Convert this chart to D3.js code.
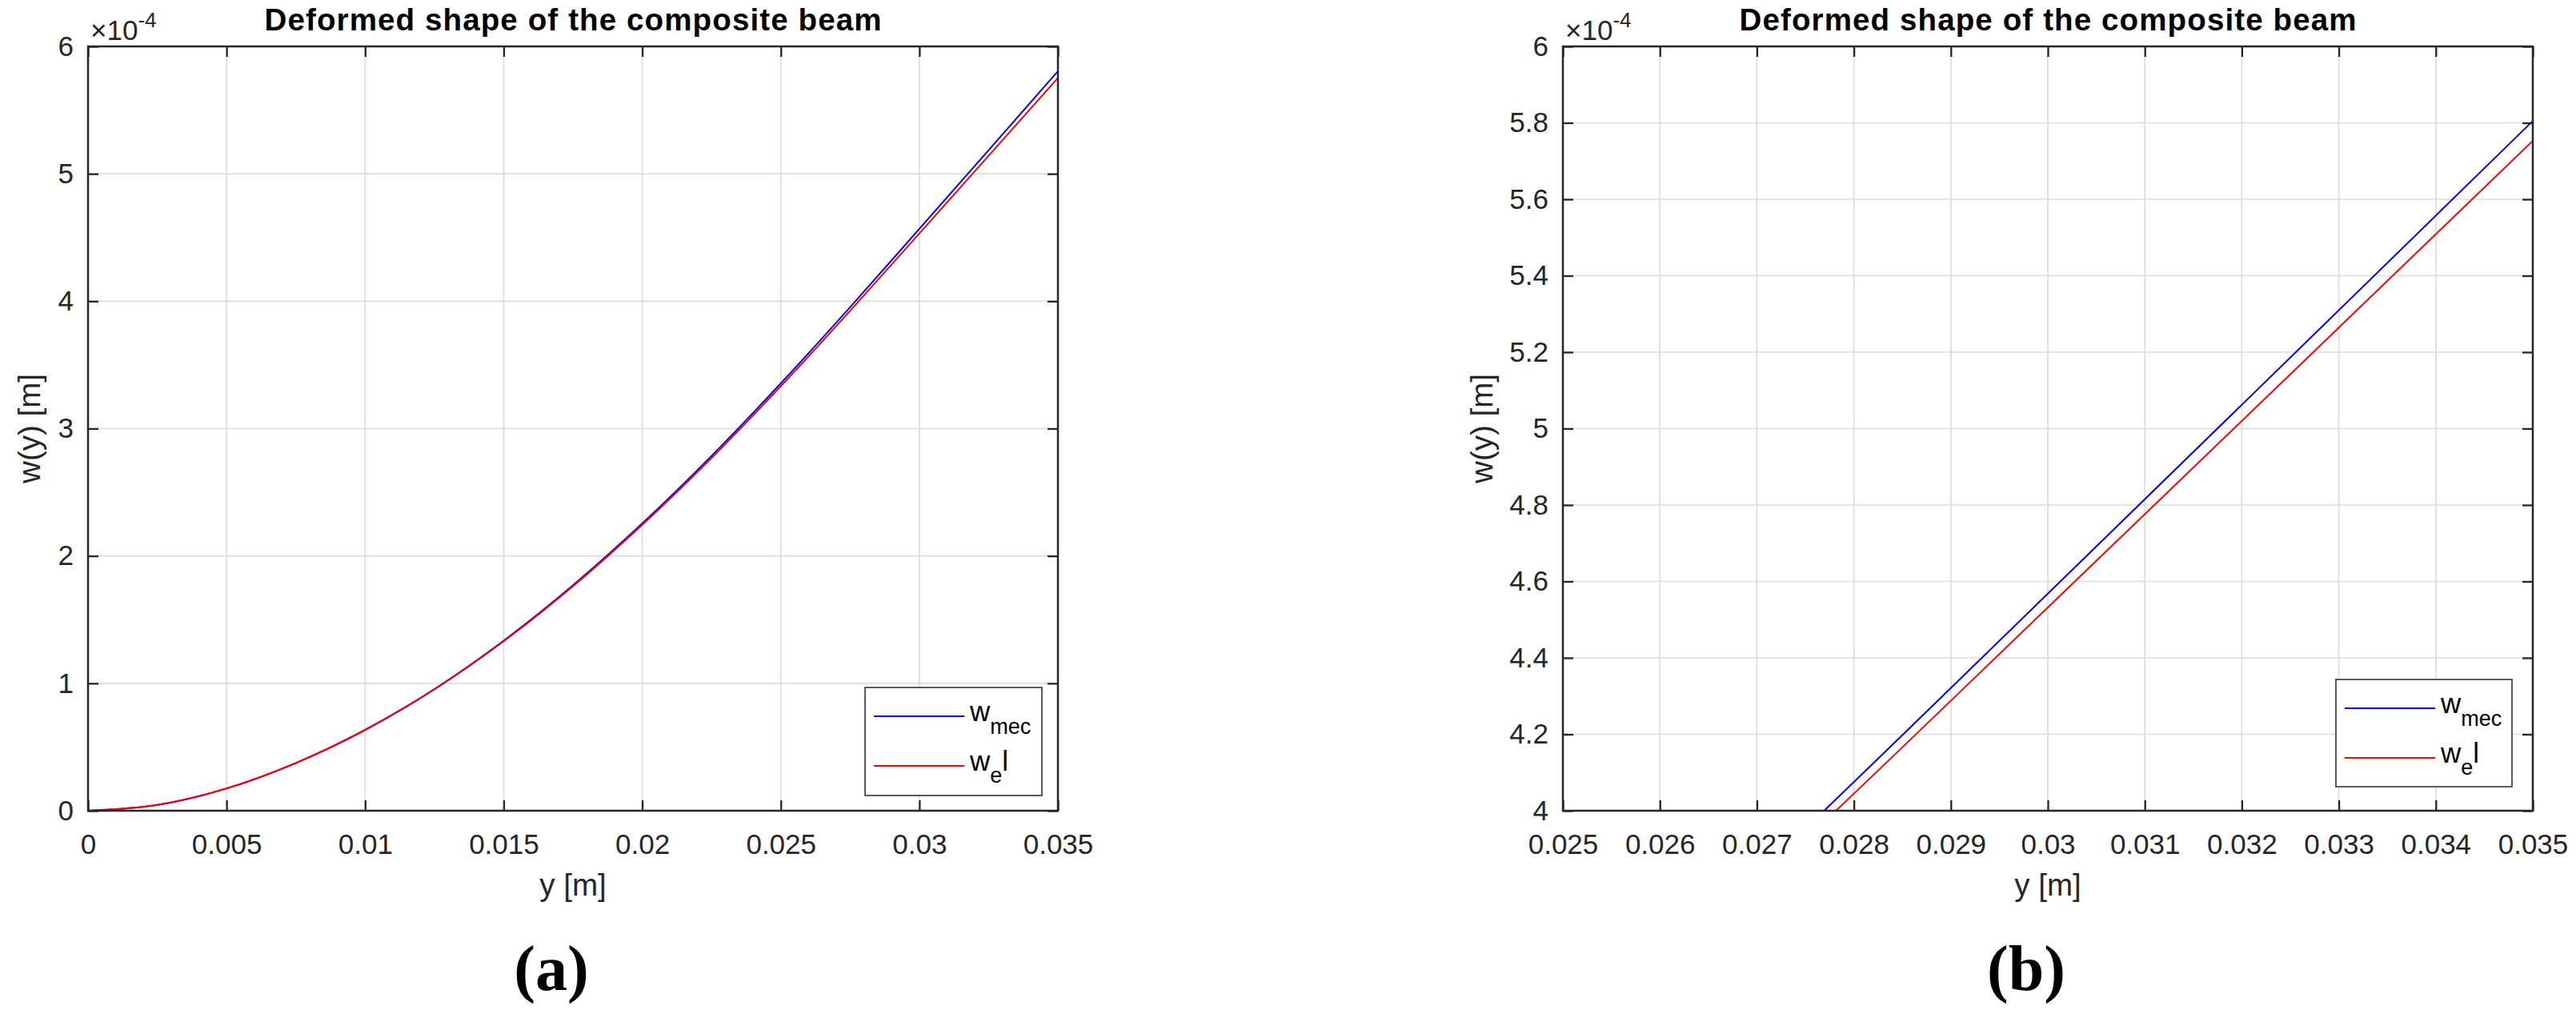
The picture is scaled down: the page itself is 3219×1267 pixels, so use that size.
<!DOCTYPE html>
<html lang="en">
<head>
    <meta charset="UTF-8">
    <title>Deformed shape of the composite beam</title>
    <style>
        html, body { margin: 0; padding: 0; background: #fff; }
        svg { display: block; font-family: "Liberation Sans", Arial, Helvetica, sans-serif; }
        .tick line { stroke: #262626; stroke-width: 2.3px; }
        .tick text { fill: #262626; font-size: 35px; }
        .domain { display: none; }
        .grid line { stroke: #dcdcdc; stroke-width: 1.7px; }
        .frame { fill: none; stroke: #262626; stroke-width: 2.5px; }
        .curve { fill: none; stroke-width: 2px; }
        .label { fill: #262626; font-size: 38.5px; }
        .title { fill: #000; font-size: 38.5px; font-weight: bold; }
        .legend rect { fill: #fff; stroke: #262626; stroke-width: 1.5px; }
        .legend text { fill: #000; font-size: 35px; }
        .tag { font-family: "Liberation Serif", "Times New Roman", serif; font-size: 80px; font-weight: bold; fill: #000; }
    </style>
</head>
<body>
    <svg width="3219" height="1267"></svg>
    <script src="https://d3js.org/d3.v7.min.js"></script>
    <script>
        // beam coordinate y [m] and deflections (in units of 1e-4 m)
        const yPos = [0, 0.0025, 0.005, 0.0075, 0.01, 0.0125, 0.015, 0.0175, 0.02, 0.0225, 0.025, 0.0275, 0.03, 0.0325, 0.035];
        const wMec = [0, 0.045, 0.175, 0.375, 0.635, 0.955, 1.335, 1.77, 2.255, 2.785, 3.355, 3.953, 4.568, 5.186, 5.805];
        const wEl  = [0, 0.045, 0.174, 0.374, 0.633, 0.952, 1.33, 1.762, 2.244, 2.769, 3.333, 3.924, 4.532, 5.142, 5.753];

        const seriesNames = ["mec", "el"];
        const seriesColors = ["#0000ff", "#ff0000"];

        // ticks of panel (a) and the zoomed panel (b)
        const xTicksA = [0, 0.005, 0.01, 0.015, 0.02, 0.025, 0.03, 0.035];
        const yTicksA = [0, 1, 2, 3, 4, 5, 6];
        const xTicksB = [0.025, 0.026, 0.027, 0.028, 0.029, 0.03, 0.031, 0.032, 0.033, 0.034, 0.035];
        const yTicksB = [4, 4.2, 4.4, 4.6, 4.8, 5, 5.2, 5.4, 5.6, 5.8, 6];

        const titleText = "Deformed shape of the composite beam";

        const plotTop = 58, plotBottom = 1013, plotW = 1212;
        const fmt = d => String(+d.toFixed(4));

        const panels = [
            { tag: "(a)", left: 110, xDomain: [0, 0.035], yDomain: [0, 6], xTicks: xTicksA, yTicks: yTicksA,
              yLabelX: 50, legend: { x: 1081, y: 859, w: 221, h: 135 } },
            { tag: "(b)", left: 1953, xDomain: [0.025, 0.035], yDomain: [4, 6], xTicks: xTicksB, yTicks: yTicksB,
              yLabelX: 1865, legend: { x: 2919, y: 849, w: 220, h: 134 } }
        ];

        const svg = d3.select("svg");
        svg.append("rect").attr("width", 3219).attr("height", 1267).attr("fill", "#fff");

        const rows = yPos.map((p, i) => ({ p, mec: wMec[i], el: wEl[i] }));

        panels.forEach((pn, k) => {
            const x = d3.scaleLinear().domain(pn.xDomain).range([pn.left, pn.left + plotW]);
            const y = d3.scaleLinear().domain(pn.yDomain).range([plotBottom, plotTop]);
            const g = svg.append("g");

            // grid
            const grid = g.append("g").attr("class", "grid");
            grid.selectAll(".gx").data(pn.xTicks).enter().append("line")
                .attr("x1", d => x(d)).attr("x2", d => x(d)).attr("y1", plotTop).attr("y2", plotBottom);
            grid.selectAll(".gy").data(pn.yTicks).enter().append("line")
                .attr("x1", pn.left).attr("x2", pn.left + plotW).attr("y1", d => y(d)).attr("y2", d => y(d));

            // curves
            const clipId = "clip" + k;
            svg.append("clipPath").attr("id", clipId).append("rect")
                .attr("x", pn.left).attr("y", plotTop).attr("width", plotW).attr("height", plotBottom - plotTop);
            seriesNames.forEach((s, i) => {
                g.append("path").datum(rows)
                    .attr("class", "curve")
                    .attr("clip-path", `url(#${clipId})`)
                    .attr("stroke", seriesColors[i])
                    .attr("d", d3.line().curve(d3.curveMonotoneX).x(d => x(d.p)).y(d => y(d[s])));
            });

            // axes (ticks inward, box on)
            g.append("g").attr("transform", `translate(0,${plotBottom})`)
                .call(d3.axisBottom(x).tickValues(pn.xTicks).tickFormat(fmt).tickSize(-13).tickSizeOuter(0).tickPadding(29));
            g.append("g").attr("transform", `translate(0,${plotTop})`)
                .call(d3.axisTop(x).tickValues(pn.xTicks).tickFormat("").tickSize(-13).tickSizeOuter(0));
            g.append("g").attr("transform", `translate(${pn.left},0)`)
                .call(d3.axisLeft(y).tickValues(pn.yTicks).tickFormat(fmt).tickSize(-13).tickSizeOuter(0).tickPadding(18));
            g.append("g").attr("transform", `translate(${pn.left + plotW},0)`)
                .call(d3.axisRight(y).tickValues(pn.yTicks).tickFormat("").tickSize(-13).tickSizeOuter(0));
            g.selectAll("g").filter(function () { return this.hasAttribute("font-family"); })
                .attr("font-family", null).attr("font-size", null);

            g.append("rect").attr("class", "frame")
                .attr("x", pn.left).attr("y", plotTop).attr("width", plotW).attr("height", plotBottom - plotTop);

            // exponent
            const ex = g.append("text").attr("x", pn.left + 3).attr("y", 50)
                .attr("fill", "#262626").attr("font-size", 35);
            ex.append("tspan").text("\u00d710");
            ex.append("tspan").attr("font-size", 26).attr("dy", -16).text("-4");

            // title and labels
            const cx = pn.left + plotW / 2;
            g.append("text").attr("class", "title").attr("x", cx).attr("y", 38)
                .attr("text-anchor", "middle").attr("textLength", 771).attr("lengthAdjust", "spacing")
                .text(titleText);
            g.append("text").attr("class", "label").attr("x", cx).attr("y", 1119)
                .attr("text-anchor", "middle").text("y [m]");
            g.append("text").attr("class", "label")
                .attr("transform", `translate(${pn.yLabelX},${(plotTop + plotBottom) / 2}) rotate(-90)`)
                .attr("text-anchor", "middle").text("w(y) [m]");
            g.append("text").attr("class", "tag").attr("x", cx - 27).attr("y", 1237)
                .attr("text-anchor", "middle").text(pn.tag);

            // legend
            const L = pn.legend;
            const lg = g.append("g").attr("class", "legend").attr("transform", `translate(${L.x},${L.y})`);
            lg.append("rect").attr("width", L.w).attr("height", L.h);
            seriesNames.forEach((s, i) => {
                const ly = 36 + i * 62;
                lg.append("line").attr("x1", 11).attr("x2", 124).attr("y1", ly).attr("y2", ly)
                    .attr("stroke", seriesColors[i]).attr("stroke-width", 2);
                const t = lg.append("text").attr("x", 131).attr("y", ly + 6);
                t.append("tspan").text("w");
                if (s === "mec") {
                    t.append("tspan").attr("font-size", 27).attr("dy", 16).text("mec");
                } else {
                    t.append("tspan").attr("font-size", 27).attr("dy", 15).text("e");
                    t.append("tspan").attr("dy", -15).text("l");
                }
            });
        });
    </script>
</body>
</html>
